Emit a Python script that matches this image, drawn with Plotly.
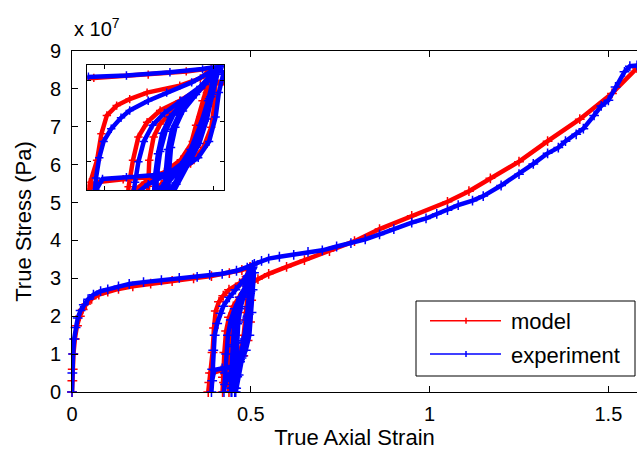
import plotly.graph_objects as go

# ---------------- data (stress in units of 1e7 Pa) ----------------
# model: initial loading
model_load_strain = [0, 0.001, 0.002, 0.004, 0.008, 0.014, 0.022, 0.03, 0.04, 0.055, 0.075, 0.1,
                     0.13, 0.17, 0.22, 0.28, 0.34, 0.39, 0.44, 0.475, 0.498]
model_load_stress = [0, 0.3, 0.6, 1.0, 1.4, 1.75, 2.0, 2.18, 2.32, 2.46, 2.57, 2.65,
                     2.72, 2.79, 2.86, 2.93, 3.0, 3.06, 3.14, 3.22, 3.3]
# model: unload / reload cycles
model_loop_strain = [0.502, 0.501, 0.498, 0.491, 0.479, 0.463, 0.445, 0.417, 0.392, 0.384, 0.381,
                     0.386, 0.393, 0.397, 0.402, 0.411, 0.423, 0.439, 0.469, 0.488, 0.498,
                     0.494, 0.488, 0.481, 0.470, 0.455, 0.437, 0.425, 0.421,
                     0.422, 0.426, 0.431, 0.439, 0.451, 0.469, 0.488, 0.498,
                     0.490, 0.484, 0.478, 0.466, 0.452, 0.442, 0.439,
                     0.440, 0.441, 0.445, 0.451, 0.460, 0.478, 0.492, 0.500]
model_loop_stress = [3.0, 2.42, 1.85, 1.36, 0.96, 0.75, 0.63, 0.57, 0.5, 0.25, 0.0,
                     0.5, 1.04, 1.69, 2.14, 2.38, 2.54, 2.7, 2.87, 3.05, 3.28,
                     2.7, 2.1, 1.5, 1.05, 0.75, 0.5, 0.25, 0.0,
                     0.39, 1.04, 1.61, 1.97, 2.26, 2.5, 2.8, 3.2,
                     2.5, 1.9, 1.3, 0.85, 0.45, 0.15, 0.0,
                     0.4, 1.04, 1.61, 1.93, 2.18, 2.58, 2.85, 3.0]
# model: continued loading
model_post_strain = [0.506, 0.52, 0.55, 0.6, 0.65, 0.72, 0.79, 0.86, 0.95, 1.05, 1.11, 1.17,
                     1.25, 1.33, 1.42, 1.51, 1.58]
model_post_stress = [2.91, 2.98, 3.12, 3.3, 3.48, 3.72, 3.98, 4.3, 4.65, 5.02, 5.3, 5.64,
                     6.08, 6.62, 7.2, 7.88, 8.55]

# experiment: initial loading
exp_load_strain = [0, 0.001, 0.003, 0.006, 0.01, 0.016, 0.024, 0.033, 0.045, 0.06, 0.08, 0.1,
                   0.13, 0.16, 0.2, 0.25, 0.3, 0.35, 0.385, 0.42, 0.46, 0.49, 0.505]
exp_load_stress = [0, 0.5, 1.0, 1.4, 1.7, 1.95, 2.15, 2.3, 2.45, 2.57, 2.66, 2.71,
                   2.79, 2.85, 2.9, 2.95, 3.01, 3.04, 3.09, 3.12, 3.2, 3.28, 3.35]
# experiment: unload / reload cycles
exp_loop_strain = [0.509, 0.505, 0.502, 0.496, 0.486, 0.470, 0.450, 0.420, 0.398, 0.392, 0.390,
                   0.392, 0.395, 0.399, 0.406, 0.415, 0.423, 0.440, 0.457, 0.480, 0.500,
                   0.497, 0.491, 0.484, 0.473, 0.458, 0.440, 0.428, 0.425,
                   0.428, 0.431, 0.436, 0.444, 0.455, 0.470, 0.488, 0.502,
                   0.495, 0.488, 0.479, 0.467, 0.453, 0.446, 0.445,
                   0.446, 0.449, 0.453, 0.460, 0.472, 0.488, 0.503,
                   0.496, 0.490, 0.482, 0.470, 0.457, 0.449, 0.447,
                   0.448, 0.451, 0.456, 0.463, 0.476, 0.492, 0.504,
                   0.498, 0.492, 0.485, 0.474, 0.462, 0.456, 0.455,
                   0.456, 0.458, 0.462, 0.469, 0.481, 0.495, 0.505,
                   0.499, 0.494, 0.487, 0.477, 0.466, 0.459, 0.458,
                   0.459, 0.461, 0.465, 0.472, 0.484, 0.497, 0.505]
exp_loop_stress = [3.15, 2.7, 2.1, 1.5, 1.1, 0.8, 0.68, 0.62, 0.58, 0.3, 0.0,
                   0.6, 1.1, 1.5, 1.81, 2.08, 2.26, 2.5, 2.7, 2.95, 3.25,
                   2.6, 2.0, 1.4, 1.0, 0.7, 0.45, 0.2, 0.0,
                   0.5, 1.0, 1.5, 1.9, 2.2, 2.5, 2.85, 3.25,
                   2.5, 1.9, 1.3, 0.8, 0.4, 0.1, 0.0,
                   0.6, 1.2, 1.7, 2.1, 2.45, 2.8, 3.25,
                   2.55, 1.95, 1.35, 0.85, 0.45, 0.12, 0.0,
                   0.65, 1.25, 1.75, 2.15, 2.5, 2.9, 3.28,
                   2.6, 2.0, 1.4, 0.9, 0.4, 0.1, 0.0,
                   0.7, 1.3, 1.8, 2.2, 2.6, 3.0, 3.3,
                   2.65, 2.05, 1.45, 0.95, 0.45, 0.1, 0.0,
                   0.7, 1.35, 1.85, 2.25, 2.65, 3.05, 3.35]
# experiment: continued loading
exp_post_strain = [0.51, 0.53, 0.55, 0.58, 0.62, 0.66, 0.7, 0.74, 0.78, 0.82, 0.86, 0.9, 0.95,
                   0.99, 1.02, 1.05, 1.08, 1.12, 1.15, 1.2, 1.25, 1.29, 1.33, 1.36, 1.38,
                   1.41, 1.43, 1.46, 1.48, 1.5, 1.52, 1.545, 1.56, 1.58]
exp_post_stress = [3.38, 3.46, 3.52, 3.57, 3.62, 3.7, 3.74, 3.84, 3.93, 4.03, 4.16, 4.3, 4.47,
                   4.58, 4.7, 4.8, 4.93, 5.05, 5.17, 5.45, 5.75, 6.02, 6.3, 6.45, 6.62,
                   6.8, 6.95, 7.3, 7.55, 7.7, 8.05, 8.45, 8.6, 8.62]

x_ticks = [0, 0.5, 1, 1.5]
x_tick_labels = ["0", "0.5", "1", "1.5"]
y_ticks = [0, 1, 2, 3, 4, 5, 6, 7, 8, 9]
y_tick_labels = ["0", "1", "2", "3", "4", "5", "6", "7", "8", "9"]
inset_x_ticks = [0.4, 0.5]
inset_y_ticks = [1, 2, 3]

series_names = ["model", "experiment"]
series_colors = ["#ff0000", "#0000ff"]

model_strain = model_load_strain + model_loop_strain + model_post_strain
model_stress = model_load_stress + model_loop_stress + model_post_stress
exp_strain = exp_load_strain + exp_loop_strain + exp_post_strain
exp_stress = exp_load_stress + exp_loop_stress + exp_post_stress
series = [(model_strain, model_stress), (exp_strain, exp_stress)]

FONT = "Liberation Sans, Arial, sans-serif"

fig = go.Figure()
for (sx, sy), name, col in zip(series, series_names, series_colors):
    fig.add_trace(go.Scatter(
        x=sx, y=sy, name=name, mode="lines+markers", showlegend=False,
        line=dict(color=col, width=4.5),
        marker=dict(symbol="cross-thin", size=7, line=dict(color=col, width=1.5)),
        cliponaxis=False, xaxis="x", yaxis="y"))
for (sx, sy), name, col in zip(series, series_names, series_colors):
    fig.add_trace(go.Scatter(
        x=sx, y=sy, name=name, mode="lines+markers", showlegend=False,
        line=dict(color=col, width=4.5),
        marker=dict(symbol="cross-thin", size=6, line=dict(color=col, width=1.5)),
        xaxis="x2", yaxis="y2"))

W, H = 637, 452
L, R, T, B = 72, 0, 51, 60
pw, ph = W - L - R, H - T - B


def px(xp):
    return (xp - L) / pw


def py(yp):
    return (H - B - yp) / ph


axis_common = dict(showgrid=False, zeroline=False, showline=True, linecolor="black",
                   linewidth=1, ticks="inside", tickcolor="black", automargin=False)

fig.update_layout(
    width=W, height=H, margin=dict(l=L, r=R, t=T, b=B),
    paper_bgcolor="white", plot_bgcolor="white",
    font=dict(family=FONT, color="black"),
    xaxis=dict(axis_common, range=[0, 1.58], domain=[0, 1], tickvals=x_ticks,
               ticktext=x_tick_labels, ticklen=6, mirror="ticks",
               tickfont=dict(size=20), ticklabelstandoff=4,
               title=dict(text="True Axial Strain", font=dict(size=22), standoff=2)),
    yaxis=dict(axis_common, range=[0, 9], domain=[0, 1], tickvals=y_ticks,
               ticktext=y_tick_labels, ticklen=6, mirror=False,
               tickfont=dict(size=20), ticklabelstandoff=6,
               title=dict(text="True Stress (Pa)", font=dict(size=22), standoff=12)),
    xaxis2=dict(axis_common, range=[0.384, 0.51], domain=[px(87.3), px(224.3)],
                anchor="y2", tickvals=inset_x_ticks, ticklen=4, mirror="ticks",
                showticklabels=False),
    yaxis2=dict(axis_common, range=[0.3, 3.37], domain=[py(190.3), py(65.3)],
                anchor="x2", tickvals=inset_y_ticks, ticklen=4, mirror="ticks",
                showticklabels=False),
)

# exponent label
fig.add_annotation(xref="paper", yref="paper", x=0, y=py(42), xanchor="left",
                   yanchor="bottom", showarrow=False, text="x 10<sup>7</sup>",
                   font=dict(size=20, family=FONT, color="black"))

# legend box (drawn by hand to match the long sample lines)
fig.add_shape(type="rect", xref="paper", yref="paper", x0=px(416), x1=px(635),
              y0=py(376), y1=py(301), line=dict(color="black", width=1),
              fillcolor="white", layer="above")
for i, (name, col) in enumerate(zip(series_names, series_colors)):
    yl = [320.7, 354][i]
    fig.add_shape(type="line", xref="paper", yref="paper", x0=px(430), x1=px(501),
                  y0=py(yl), y1=py(yl), line=dict(color=col, width=1.5), layer="above")
    fig.add_shape(type="line", xref="paper", yref="paper", x0=px(466), x1=px(466),
                  y0=py(yl - 3), y1=py(yl + 3), line=dict(color=col, width=1.5),
                  layer="above")
    fig.add_annotation(xref="paper", yref="paper", x=px(509), y=py(yl + 1),
                       xanchor="left", yanchor="middle", showarrow=False, text=name,
                       font=dict(size=22, family=FONT, color="black"))

fig.write_html("out.html", config={"displayModeBar": False},
               post_script="document.body.style.margin='0';document.body.style.padding='0';")
